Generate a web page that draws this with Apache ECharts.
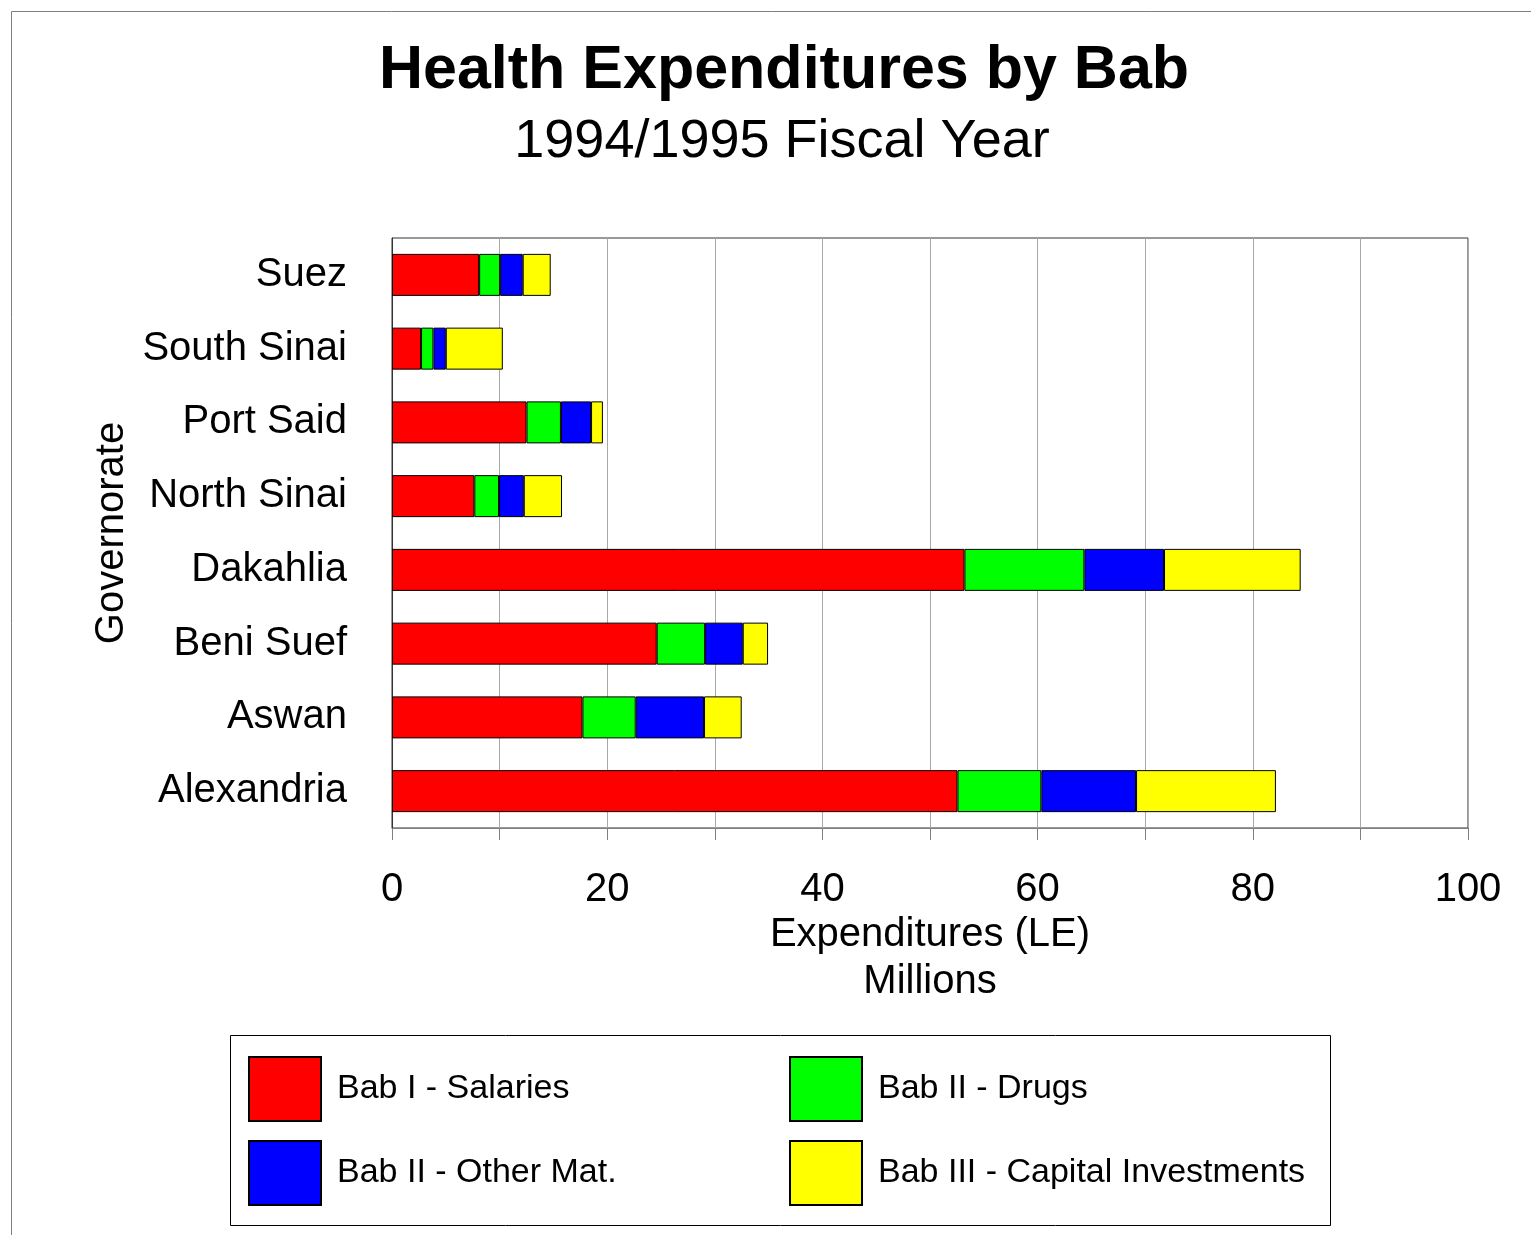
<!DOCTYPE html>
<html>
<head>
<meta charset="utf-8">
<script src="https://cdn.jsdelivr.net/npm/echarts@6.0.0/dist/echarts.min.js"></script>
<style>
  html, body { margin: 0; padding: 0; background: #fff; }
  #chart { width: 1531px; height: 1235px; }
</style>
</head>
<body>
<div id="chart"></div>
<script>
// governorates, top to bottom
const governorates = ['Suez', 'South Sinai', 'Port Said', 'North Sinai', 'Dakahlia', 'Beni Suef', 'Aswan', 'Alexandria']

// values in millions LE
const salaries = [8.1, 2.7, 12.5, 7.65, 53.2, 24.6, 17.7, 52.55]
const drugs = [1.95, 1.15, 3.2, 2.3, 11.15, 4.5, 4.95, 7.8]
const otherMat = [2.1, 1.15, 2.8, 2.3, 7.4, 3.5, 6.35, 8.8]
const capital = [2.6, 5.3, 1.1, 3.55, 12.7, 2.35, 3.5, 13.0]

const xTicks = [0, 20, 40, 60, 80, 100]

const fontFamily = '"Liberation Sans", Arial, sans-serif'

const seriesDefs = [
  { name: 'Bab I - Salaries', color: '#ff0000', data: salaries },
  { name: 'Bab II - Drugs', color: '#00ff00', data: drugs },
  { name: 'Bab II - Other Mat.', color: '#0000ff', data: otherMat },
  { name: 'Bab III - Capital Investments', color: '#ffff00', data: capital }
]

const chart = echarts.init(document.getElementById('chart'))

const legendCommon = {
  orient: 'vertical',
  top: 1056,
  itemWidth: 72,
  itemHeight: 64,
  itemGap: 18,
  padding: 0,
  icon: 'rect',
  selectedMode: false,
  textStyle: {
    fontSize: 34,
    fontFamily: fontFamily,
    color: '#000',
    padding: [4, 0, 0, 11]
  }
}

const option = {
  backgroundColor: '#fff',
  animation: false,
  title: [
    {
      text: 'Health Expenditures by Bab',
      left: 779,
      top: 36,
      textAlign: 'center',
      textStyle: { fontSize: 61, fontWeight: 'bold', fontFamily: fontFamily, color: '#000' }
    },
    {
      text: '1994/1995 Fiscal Year',
      left: 777,
      top: 110,
      textAlign: 'center',
      textStyle: { fontSize: 54, fontWeight: 'normal', fontFamily: fontFamily, color: '#000' }
    }
  ],
  graphic: [
    {
      type: 'rect',
      shape: { x: 11.5, y: 11.5, width: 1600, height: 1400 },
      style: { fill: 'none', stroke: '#808080', lineWidth: 1 },
      silent: true
    },
    {
      type: 'rect',
      shape: { x: 230.5, y: 1035.5, width: 1100, height: 190 },
      style: { fill: 'none', stroke: '#000', lineWidth: 1 },
      silent: true
    }
  ],
  legend: [
    Object.assign({}, legendCommon, {
      left: 248,
      data: ['Bab I - Salaries', 'Bab II - Other Mat.']
    }),
    Object.assign({}, legendCommon, {
      left: 789,
      data: ['Bab II - Drugs', 'Bab III - Capital Investments']
    })
  ],
  grid: {
    left: 392,
    right: 63,
    top: 238,
    bottom: 407,
    show: true,
    borderColor: '#333',
    borderWidth: 1,
    containLabel: false
  },
  xAxis: {
    type: 'value',
    min: 0,
    max: 100,
    interval: 10,
    name: 'Expenditures (LE)\nMillions',
    nameLocation: 'middle',
    nameGap: 83,
    nameTextStyle: { fontSize: 40, fontFamily: fontFamily, color: '#000', lineHeight: 47 },
    axisLine: { show: true, lineStyle: { color: '#808080', width: 1 } },
    axisTick: { show: true, length: 12, lineStyle: { color: '#808080' } },
    axisLabel: {
      fontSize: 40,
      fontFamily: fontFamily,
      color: '#000',
      margin: 42,
      formatter: (v) => (xTicks.indexOf(v) >= 0 ? String(v) : '')
    },
    splitLine: { show: true, lineStyle: { color: '#a8a8a8', width: 1 } }
  },
  yAxis: {
    type: 'category',
    inverse: true,
    data: governorates,
    name: 'Governorate',
    nameLocation: 'middle',
    nameGap: 259,
    nameRotate: 90,
    nameTextStyle: { fontSize: 40, fontFamily: fontFamily, color: '#000' },
    axisLine: { show: true, lineStyle: { color: '#333', width: 1 } },
    axisTick: { show: false },
    axisLabel: {
      fontSize: 40,
      fontFamily: fontFamily,
      color: '#000',
      margin: 45,
      padding: [6, 0, 0, 0]
    },
    splitLine: { show: false }
  },
  series: seriesDefs.map((s) => ({
    name: s.name,
    type: 'bar',
    stack: 'total',
    barWidth: 42,
    data: s.data,
    itemStyle: { color: s.color, borderColor: '#000', borderWidth: 1 }
  }))
}

chart.setOption(option)
</script>
</body>
</html>
